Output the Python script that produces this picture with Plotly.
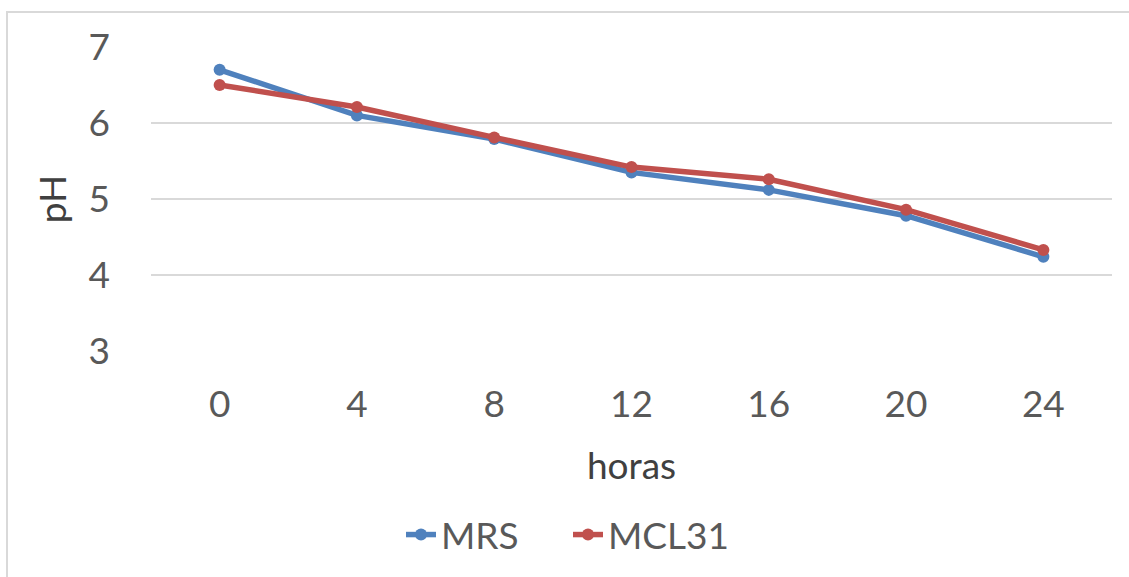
import plotly.graph_objects as go

horas = ["0", "4", "8", "12", "16", "20", "24"]
mrs = [6.70, 6.10, 5.79, 5.35, 5.12, 4.78, 4.24]
mcl31 = [6.50, 6.21, 5.81, 5.42, 5.26, 4.86, 4.33]

FONT = "Lato"
GRAY = "#595959"

W, H = 1129, 577
L, R, T, B = 151, 17, 47, 225
pw, ph = W - L - R, H - T - B

fig = go.Figure()
fig.add_trace(go.Scatter(x=horas, y=mrs, name="MRS", mode="lines+markers",
                         line=dict(color="#4f81bd", width=5.5),
                         marker=dict(size=12, color="#4f81bd")))
fig.add_trace(go.Scatter(x=horas, y=mcl31, name="MCL31", mode="lines+markers",
                         line=dict(color="#c0504d", width=5.5),
                         marker=dict(size=12, color="#c0504d")))

# chart border (left & top visible)
fig.add_shape(type="rect", xref="paper", yref="paper",
              x0=(7 - L) / pw, x1=(W + 20 - L) / pw,
              y0=-(H + 20 - T - ph) / ph, y1=1 + (T - 12) / ph,
              line=dict(color="#d9d9d9", width=2), fillcolor="rgba(0,0,0,0)", layer="below")

fig.update_layout(
    width=W, height=H,
    margin=dict(l=L, r=R, t=T, b=B),
    paper_bgcolor="white", plot_bgcolor="white",
    font=dict(family=FONT, size=37, color=GRAY),
    showlegend=True,
    legend=dict(orientation="h", x=(568 - L) / pw, xanchor="center",
                y=-(535 - T - ph) / ph, yanchor="middle",
                entrywidth=122, entrywidthmode="pixels",
                font=dict(family=FONT, size=37, color=GRAY),
                bgcolor="rgba(0,0,0,0)"),
    xaxis=dict(type="category", range=[-0.5, 6.5], showgrid=False, zeroline=False,
               showline=False, ticks="", ticklabelstandoff=28,
               tickfont=dict(family=FONT, size=37, color=GRAY),
               title=dict(text="horas", standoff=29,
                          font=dict(family=FONT, size=37, color="#404040"))),
    yaxis=dict(range=[3, 7], tickvals=[3, 4, 5, 6, 7], showgrid=True,
               gridcolor="#d9d9d9", gridwidth=2, zeroline=False, showline=False,
               ticks="", ticklabelstandoff=40,
               tickfont=dict(family=FONT, size=37, color=GRAY),
               title=dict(text="pH", standoff=10,
                          font=dict(family=FONT, size=37, color="#404040"))),
)

fig.write_html("out.html")
